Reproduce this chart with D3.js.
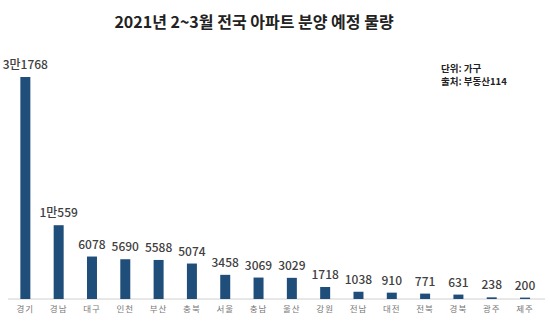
<!DOCTYPE html>
<html>
<head>
<meta charset="utf-8">
<script src="https://cdn.jsdelivr.net/npm/d3@7"></script>
<style>
  body { margin: 0; background: #fff; }
  svg text { font-family: "Noto Sans CJK KR", "Noto Sans", sans-serif; }
</style>
</head>
<body>
<div id="chart"></div>
<script>
var WIDTH = 550;
var HEIGHT = 321;

var regions = ['경기', '경남', '대구', '인천', '부산', '충북', '서울', '충남',
  '울산', '강원', '전남', '대전', '전북', '경북', '광주', '제주'];
var units = [31768, 10559, 6078, 5690, 5588, 5074, 3458, 3069,
  3029, 1718, 1038, 910, 771, 631, 238, 200];
var valueLabels = ['3만1768', '1만559', '6078', '5690', '5588', '5074', '3458', '3069',
  '3029', '1718', '1038', '910', '771', '631', '238', '200'];

var rows = regions.map(function(r, i) {
  return { region: r, value: units[i], label: valueLabels[i] };
});

var svg = d3.select('#chart')
  .append('svg')
  .attr('width', WIDTH)
  .attr('height', HEIGHT);

var x = d3.scaleBand()
  .domain(regions)
  .range([8.7, 541.7])
  .paddingInner(0.7)
  .paddingOuter(0.35);

var y = d3.scaleLinear()
  .domain([0, d3.max(units)])
  .range([299, 77]);

// title
svg.append('text')
  .attr('x', 254)
  .attr('y', 27.5)
  .attr('text-anchor', 'middle')
  .attr('font-size', 16)
  .attr('font-weight', 700)
  .attr('fill', '#222')
  .text('2021년 2~3월 전국 아파트 분양 예정 물량');

// unit / source
svg.append('text')
  .attr('x', 441)
  .attr('y', 71.5)
  .attr('font-size', 9.5)
  .attr('font-weight', 700)
  .attr('fill', '#222')
  .text('단위: 가구');
svg.append('text')
  .attr('x', 441)
  .attr('y', 85)
  .attr('font-size', 9.5)
  .attr('font-weight', 700)
  .attr('fill', '#222')
  .text('출처: 부동산114');

// baseline axis
var xAxis = svg.append('g')
  .attr('transform', 'translate(0,' + y(0) + ')')
  .call(d3.axisBottom(x).tickSize(0).tickPadding(7));
xAxis.select('.domain')
  .attr('d', 'M8,0H545')
  .attr('stroke', '#d0d0d0');
xAxis.selectAll('.tick text')
  .attr('font-family', '"Noto Sans CJK KR", sans-serif')
  .attr('font-size', 8.5)
  .attr('letter-spacing', 1)
  .attr('fill', '#777');

// bars
svg.selectAll('.bar')
  .data(rows)
  .enter()
  .append('rect')
    .attr('class', 'bar')
    .attr('x', function(d) { return x(d.region); })
    .attr('y', function(d) { return y(d.value); })
    .attr('width', x.bandwidth())
    .attr('height', function(d) { return y(0) - y(d.value); })
    .attr('fill', '#1f4e7a');

// value labels
svg.selectAll('.val')
  .data(rows)
  .enter()
  .append('text')
    .attr('class', 'val')
    .attr('x', function(d) { return x(d.region) + x.bandwidth() / 2; })
    .attr('y', function(d) { return y(d.value) - 8; })
    .attr('text-anchor', 'middle')
    .attr('font-size', 12)
    .attr('font-weight', 500)
    .attr('fill', '#404040')
    .text(function(d) { return d.label; });
</script>
</body>
</html>
